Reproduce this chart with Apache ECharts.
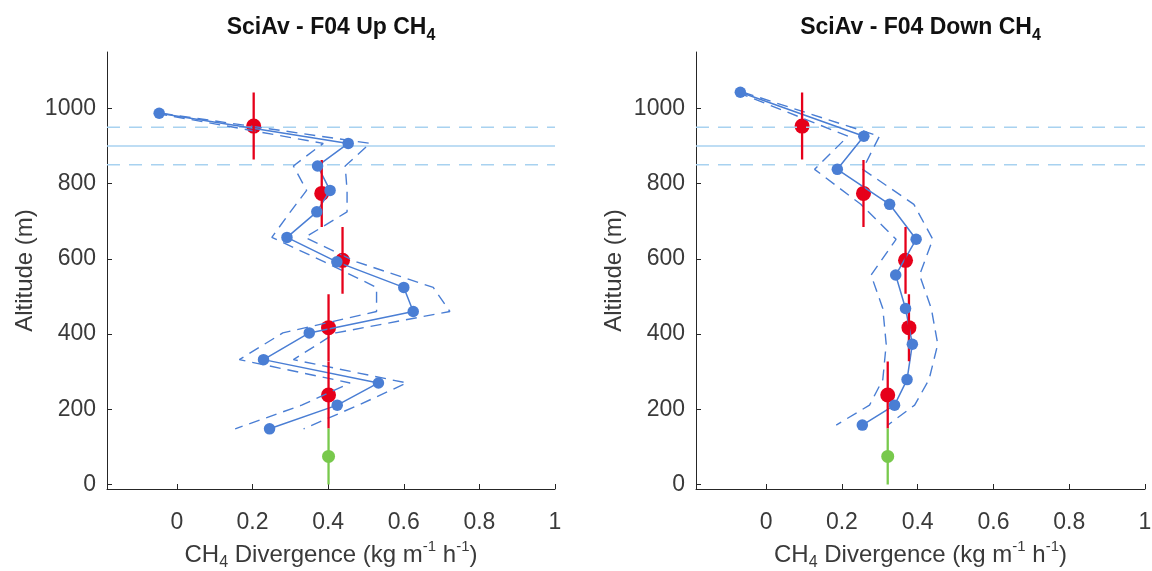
<!DOCTYPE html>
<html>
<head>
<meta charset="utf-8">
<script src="https://cdn.jsdelivr.net/npm/echarts@6/dist/echarts.min.js"></script>
<style>
  html, body { margin: 0; padding: 0; background: #ffffff; }
  #chart { width: 1152px; height: 571px; }
</style>
</head>
<body>
<div id="chart"></div>
<script>
// ---------- Data ----------
const xTicks = [0, 0.2, 0.4, 0.6, 0.8, 1];
const yTicks = [0, 200, 400, 600, 800, 1000];

// Reference altitude lines (m)
const refLevels = [950, 900, 850];
const refDashed = [true, false, true];

// Up profile (left panel)
const upX   = [-0.047, 0.453, 0.372, 0.405, 0.370, 0.291, 0.423, 0.600, 0.625, 0.350, 0.229, 0.533, 0.424, 0.245];
const upAlt = [987, 907, 847, 782, 725, 657, 592, 524, 460, 403, 332, 270, 211, 148];
const upLo  = [-0.055, 0.387, 0.308, 0.343, 0.300, 0.251, 0.390, 0.528, 0.528, 0.280, 0.165, 0.458, 0.330, 0.154];
const upHi  = [-0.040, 0.511, 0.445, 0.450, 0.450, 0.339, 0.475, 0.678, 0.722, 0.420, 0.308, 0.608, 0.480, 0.335];

// Down profile (right panel)
const downX   = [-0.068, 0.258, 0.188, 0.326, 0.396, 0.342, 0.368, 0.386, 0.372, 0.339, 0.254];
const downAlt = [1043, 926, 838, 745, 652, 557, 468, 373, 279, 211, 158];
const downLo  = [-0.076, 0.216, 0.128, 0.250, 0.343, 0.277, 0.308, 0.317, 0.308, 0.273, 0.185];
const downHi  = [-0.061, 0.299, 0.255, 0.390, 0.440, 0.405, 0.436, 0.453, 0.430, 0.392, 0.321];

// Layer averages (red) with vertical extent
const layerAlt  = [953, 774, 596, 417, 238];
const layerHalf = 89;
const upLayerX   = [0.203, 0.383, 0.438, 0.401, 0.401];
const downLayerX = [0.095, 0.257, 0.368, 0.377, 0.321];

// Ground value (green)
const groundAlt  = 74.5;
const groundHalf = 74.5;
const upGroundX   = 0.401;
const downGroundX = 0.321;

const titles = ['SciAv - F04 Up CH', 'SciAv - F04 Down CH'];

// ---------- Styles ----------
const xMin = -0.185, xMax = 1, yMin = -12, yMax = 1150;
const BLUE = '#4a7ed4', RED = '#e6001a', GREEN = '#78c94c', REF = '#a8d2f0';
const AXIS = '#262626', TXT = '#3a3a3a';
const FONT = '"Liberation Sans", Arial, sans-serif';
const FS = 23;
const FN = 24;

const zip = (xs, ys) => xs.map((x, i) => [x, ys[i]]);

function panelSeries(k, px, pAlt, lo, hi, layX, grX) {
  const s = [];
  refLevels.forEach((lvl, i) => {
    s.push({
      type: 'line', xAxisIndex: k, yAxisIndex: k, silent: true, symbol: 'none',
      data: [[xMin, lvl], [xMax, lvl]],
      lineStyle: { color: REF, width: 1.6, type: refDashed[i] ? [13, 9] : 'solid' }
    });
  });
  [lo, hi].forEach(arr => {
    s.push({
      type: 'line', xAxisIndex: k, yAxisIndex: k, silent: true, symbol: 'none',
      data: zip(arr, pAlt),
      lineStyle: { color: BLUE, width: 1.4, type: [11, 7] }
    });
  });
  s.push({
    type: 'line', xAxisIndex: k, yAxisIndex: k, silent: true,
    data: zip(px, pAlt), symbol: 'circle', symbolSize: 11.5, showAllSymbol: true,
    itemStyle: { color: BLUE }, lineStyle: { color: BLUE, width: 1.5 }
  });
  layX.forEach((x, i) => {
    s.push({
      type: 'line', xAxisIndex: k, yAxisIndex: k, silent: true, symbol: 'none',
      data: [[x, layerAlt[i] - layerHalf], [x, layerAlt[i] + layerHalf]],
      lineStyle: { color: RED, width: 2.3 }
    });
  });
  s.push({
    type: 'scatter', xAxisIndex: k, yAxisIndex: k, silent: true,
    data: zip(layX, layerAlt), symbol: 'circle', symbolSize: 15,
    itemStyle: { color: RED, opacity: 1 }
  });
  s.push({
    type: 'line', xAxisIndex: k, yAxisIndex: k, silent: true, symbol: 'none',
    data: [[grX, groundAlt - groundHalf], [grX, groundAlt + groundHalf]],
    lineStyle: { color: GREEN, width: 2.3 }
  });
  s.push({
    type: 'scatter', xAxisIndex: k, yAxisIndex: k, silent: true,
    data: [[grX, groundAlt]], symbol: 'circle', symbolSize: 13,
    itemStyle: { color: GREEN, opacity: 1 }
  });
  return s;
}

const grids = [
  { left: 107, top: 52, width: 448, height: 437, containLabel: false, outerBoundsMode: 'none' },
  { left: 696, top: 52, width: 449, height: 437, containLabel: false, outerBoundsMode: 'none' }
];

const richX = {
  t:   { fontFamily: FONT, fontSize: FN, color: TXT, lineHeight: 32, verticalAlign: 'middle' },
  sub: { fontFamily: FONT, fontSize: 16, color: TXT, lineHeight: 16, verticalAlign: 'bottom' },
  sup: { fontFamily: FONT, fontSize: 15, color: TXT, lineHeight: 15, verticalAlign: 'top' }
};
const xName = '{t|CH}{sub|4}{t| Divergence (kg m}{sup|-1}{t| h}{sup|-1}{t|)}';

function xAxis(k) {
  return {
    type: 'value', gridIndex: k, min: xMin, max: xMax,
    name: xName, nameLocation: 'middle', nameGap: 50,
    nameTextStyle: { rich: richX },
    axisLine: { show: true, onZero: false, lineStyle: { color: AXIS, width: 1 } },
    axisTick: { show: true, inside: true, length: 5, customValues: xTicks, lineStyle: { color: AXIS } },
    axisLabel: { customValues: xTicks, margin: 22, fontFamily: FONT, fontSize: FS, color: TXT,
                 formatter: v => String(Math.round(v * 10) / 10) },
    splitLine: { show: false }
  };
}
function yAxis(k) {
  return {
    type: 'value', gridIndex: k, min: yMin, max: yMax,
    name: 'Altitude (m)', nameLocation: 'middle', nameGap: 70, nameRotate: 90,
    nameTextStyle: { fontFamily: FONT, fontSize: FN, color: TXT },
    axisLine: { show: true, onZero: false, lineStyle: { color: AXIS, width: 1 } },
    axisTick: { show: true, inside: true, length: 5, customValues: yTicks, lineStyle: { color: AXIS } },
    axisLabel: { customValues: yTicks, margin: 11, fontFamily: FONT, fontSize: FS, color: TXT,
                 formatter: v => String(Math.round(v)) },
    splitLine: { show: false }
  };
}

const titleGraphics = titles.map((t, k) => ({
  type: 'text',
  x: grids[k].left + grids[k].width / 2,
  y: 12,
  style: {
    text: '{m|' + t + '}{s|4}',
    textAlign: 'center',
    textVerticalAlign: 'top',
    rich: {
      m: { fontFamily: FONT, fontSize: 23, fontWeight: 'bold', fill: '#111111', lineHeight: 32, verticalAlign: 'middle' },
      s: { fontFamily: FONT, fontSize: 16, fontWeight: 'bold', fill: '#111111', lineHeight: 16, verticalAlign: 'bottom' }
    }
  }
}));

const chart = echarts.init(document.getElementById('chart'), null, { renderer: 'canvas' });
chart.setOption({
  animation: false,
  backgroundColor: '#ffffff',
  grid: grids,
  xAxis: [xAxis(0), xAxis(1)],
  yAxis: [yAxis(0), yAxis(1)],
  graphic: titleGraphics,
  series: [
    ...panelSeries(0, upX, upAlt, upLo, upHi, upLayerX, upGroundX),
    ...panelSeries(1, downX, downAlt, downLo, downHi, downLayerX, downGroundX)
  ]
});
</script>
</body>
</html>
